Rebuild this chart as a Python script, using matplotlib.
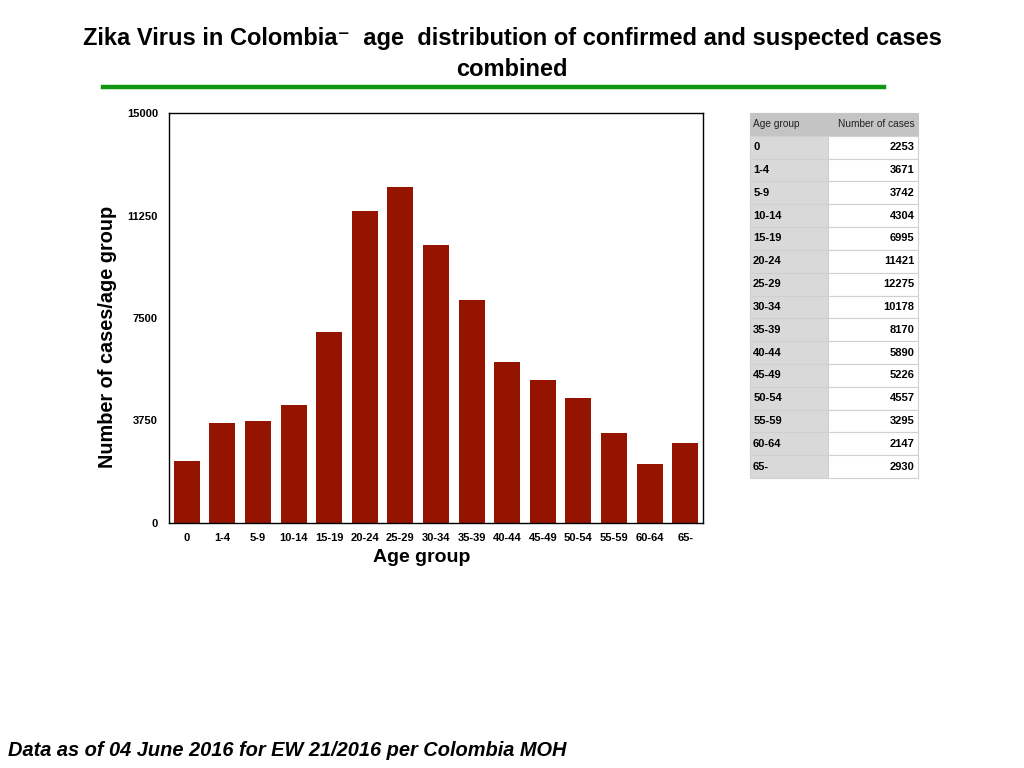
import matplotlib
matplotlib.use('Agg')
import matplotlib.pyplot as plt
from matplotlib.lines import Line2D

plt.rcParams['font.family'] = ['Liberation Sans', 'DejaVu Sans']

age_groups = ['0', '1-4', '5-9', '10-14', '15-19', '20-24', '25-29', '30-34',
              '35-39', '40-44', '45-49', '50-54', '55-59', '60-64', '65-']
cases = [2253, 3671, 3742, 4304, 6995, 11421, 12275, 10178,
         8170, 5890, 5226, 4557, 3295, 2147, 2930]
yticks = [0, 3750, 7500, 11250, 15000]

W, H = 1024, 768
fig = plt.figure(figsize=(W / 100, H / 100), dpi=100)

# title + green rule
fig.text(512 / W, 1 - 38 / H, 'Zika Virus in Colombia\u207b  age  distribution of confirmed and suspected cases',
         ha='center', va='center', fontsize=17, fontweight='bold',
         family=['Liberation Sans Narrow', 'Liberation Sans', 'DejaVu Sans'])
fig.text(512 / W, 1 - 69 / H, 'combined', ha='center', va='center', fontsize=17, fontweight='bold',
         family=['Liberation Sans Narrow', 'Liberation Sans', 'DejaVu Sans'])
fig.add_artist(Line2D([103 / W, 884 / W], [1 - 87 / H, 1 - 87 / H], color='#119611', lw=3.2,
                      transform=fig.transFigure))

# bar chart
ax = fig.add_axes([169 / W, 1 - 523 / H, (703 - 169) / W, (523 - 113) / H])
x = range(len(age_groups))
ax.bar(x, cases, width=0.73, color='#941400')
ax.set_xlim(-0.5, len(age_groups) - 0.5)
ax.set_ylim(0, 15000)
ax.set_yticks(yticks)
ax.set_yticklabels([str(v) for v in yticks], fontsize=8, fontweight='bold')
ax.set_xticks(list(x))
ax.set_xticklabels(age_groups, fontsize=8, fontweight='bold')
ax.tick_params(length=0)
ax.tick_params(axis='x', pad=7)
ax.tick_params(axis='y', pad=8)
for s in ax.spines.values():
    s.set_linewidth(1.0)
ax.set_xlabel('Age group', fontsize=14, fontweight='bold')
ax.xaxis.set_label_coords(0.474, -0.063)
ax.set_ylabel('Number of cases/age group', fontsize=14.3, fontweight='bold')
ax.yaxis.set_label_coords(-0.097, 0.454)

# side table
tax = fig.add_axes([750 / W, 1 - 478 / H, (918 - 750) / W, (478 - 113) / H])
tax.axis('off')
rows = [[g, str(c)] for g, c in zip(age_groups, cases)]
colors = [['#d9d9d9', 'white'] for _ in rows]
tbl = tax.table(cellText=rows, colLabels=['Age group', 'Number of cases'],
                cellColours=colors, colColours=['#c4c4c4', '#c4c4c4'],
                colWidths=[78 / 168, 90 / 168], bbox=[0, 0, 1, 1])
tbl.auto_set_font_size(False)
for (r, c), cell in tbl.get_celld().items():
    cell.set_edgecolor('#d0d0d0')
    cell.set_linewidth(0.8)
    cell.PAD = 0.04
    t = cell.get_text()
    if r == 0:
        t.set_fontsize(7.3)
        t.set_color('#222222')
        cell.set_edgecolor('#c4c4c4')
    else:
        t.set_fontsize(8)
        t.set_fontweight('bold')
    cell._loc = 'left' if c == 0 else 'right'
    t.set_ha('left' if c == 0 else 'right')

# footer
fig.text(8 / W, 1 - 751 / H, 'Data as of 04 June 2016 for EW 21/2016 per Colombia MOH',
         ha='left', va='center', fontsize=14.4, fontweight='bold', fontstyle='italic')

fig.savefig('out.png', dpi=100)
